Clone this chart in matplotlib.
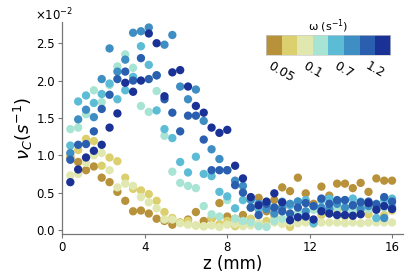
import numpy as np
import matplotlib
matplotlib.use("Agg")
import matplotlib.pyplot as plt
from matplotlib.colors import ListedColormap

# distance from surface (mm)
z = [0.40, 0.78, 1.16, 1.54, 1.92, 2.30, 2.68, 3.06, 3.44, 3.82, 4.20, 4.58,
     4.96, 5.34, 5.72, 6.10, 6.48, 6.86, 7.24, 7.62, 8.00, 8.38, 8.76, 9.14,
     9.52, 9.90, 10.28, 10.66, 11.04, 11.42, 11.80, 12.18, 12.56, 12.94,
     13.32, 13.70, 14.08, 14.46, 14.84, 15.22, 15.60, 15.98]

# nu_C in units of 1e-2 s^-1, one list per rotation rate
nu_1 = [0.97, 0.91, 0.80, 0.85, 0.70, 0.64, 0.51, 0.39, 0.25, 0.26, 0.22, 0.15,
        0.12, 0.07, 0.10, 0.14, 0.24, 0.12, 0.15, 0.36, 0.18, 0.15, 0.20, 0.30,
        0.43, 0.25, 0.40, 0.57, 0.52, 0.70, 0.49, 0.35, 0.58, 0.46, 0.62, 0.62,
        0.56, 0.63, 0.51, 0.69, 0.66, 0.66]
nu_2 = [0.99, 1.07, 1.22, 1.19, 0.86, 0.97, 0.92, 0.70, 0.55, 0.53, 0.48, 0.39,
        0.24, 0.16, 0.10, 0.12, 0.06, 0.05, 0.16, 0.08, 0.12, 0.05, 0.10, 0.15,
        0.08, 0.12, 0.18, 0.30, 0.04, 0.22, 0.14, 0.10, 0.20, 0.25, 0.27, 0.18,
        0.30, 0.22, 0.21, 0.28, 0.20, 0.26]
nu_3 = [0.73, 0.75, 0.90, 1.00, 1.03, 0.80, 0.57, 0.62, 0.59, 0.44, 0.37, 0.29,
        0.14, 0.14, 0.09, 0.07, 0.06, 0.05, 0.06, 0.04, 0.07, 0.08, 0.05, 0.06,
        0.09, 0.05, 0.10, 0.08, 0.10, 0.09, 0.10, 0.08, 0.10, 0.10, 0.10, 0.09,
        0.10, 0.09, 0.10, 0.10, 0.10, 0.10]
nu_4 = [1.35, 1.37, 1.55, 1.87, 1.71, 1.94, 2.19, 2.35, 2.17, 1.66, 1.58, 1.86,
        1.26, 0.78, 0.63, 0.59, 0.56, 0.32, 0.21, 0.18, 0.40, 0.15, 0.12, 0.10,
        0.05, 0.04, 0.12, 0.15, 0.20, 0.22, 0.18, 0.27, 0.25, 0.22, 0.30, 0.28,
        0.25, 0.30, 0.28, 0.32, 0.30, 0.35]
nu_5 = [1.13, 1.72, 1.80, 1.70, 1.82, 1.96, 1.75, 1.87, 2.05, 2.46, 2.21, 1.60,
        1.35, 1.23, 0.91, 0.77, 0.98, 0.75, 0.72, 0.51, 0.45, 0.29, 0.40, 0.30,
        0.28, 0.36, 0.30, 0.38, 0.33, 0.38, 0.40, 0.09, 0.40, 0.42, 0.38, 0.40,
        0.42, 0.38, 0.36, 0.16, 0.40, 0.42]
nu_6 = [1.03, 1.48, 1.61, 1.51, 2.02, 2.43, 2.12, 2.28, 2.64, 2.66, 2.71, 2.07,
        2.48, 2.61, 1.92, 1.75, 1.88, 1.46, 1.08, 0.95, 0.80, 0.66, 0.59, 0.40,
        0.35, 0.28, 0.22, 0.30, 0.35, 0.38, 0.25, 0.32, 0.30, 0.28, 0.35, 0.30,
        0.33, 0.28, 0.32, 0.35, 0.16, 0.30]
nu_7 = [0.94, 1.14, 1.15, 1.32, 1.62, 1.81, 2.02, 2.12, 2.00, 2.30, 2.02, 2.07,
        1.75, 1.57, 1.32, 1.53, 1.53, 1.21, 0.80, 0.80, 0.80, 0.60, 0.50, 0.30,
        0.20, 0.35, 0.30, 0.25, 0.22, 0.30, 0.36, 0.32, 0.42, 0.35, 0.40, 0.40,
        0.33, 0.37, 0.38, 0.34, 0.44, 0.38]
nu_8 = [0.64, 0.81, 0.97, 1.06, 1.14, 1.37, 1.56, 1.97, 1.85, 2.00, 2.63, 2.50,
        1.79, 2.11, 2.14, 1.92, 1.66, 1.57, 1.37, 1.30, 1.34, 0.86, 0.69, 0.44,
        0.33, 0.38, 0.49, 0.37, 0.13, 0.17, 0.18, 0.14, 0.25, 0.22, 0.20, 0.20,
        0.19, 0.21, 0.36, 0.27, 0.32, 0.28]

series = [nu_1, nu_2, nu_3, nu_4, nu_5, nu_6, nu_7, nu_8]
colors = ['#b8923a', '#dccf6e', '#e0e8b0', '#a8e4d4',
          '#5cbcd6', '#3e8ec4', '#2a5eae', '#1a3296']
omega_ticks = ['0.05', '0.1', '0.7', '1.2']

fig = plt.figure(figsize=(4.11, 2.74), dpi=100)
ax = fig.add_axes([0.151, 0.146, 0.829, 0.774])

for vals, c in zip(series, colors):
    ax.scatter(z, vals, s=36, color=c, edgecolors='none', zorder=2)

ax.set_xlim(0, 16.5)
ax.set_ylim(-0.054, 2.785)
ax.set_xticks([0, 4, 8, 12, 16])
ax.set_yticks([0.0, 0.5, 1.0, 1.5, 2.0, 2.5])
ax.set_yticklabels(['0.0', '0.5', '1.0', '1.5', '2.0', '2.5'])
for s in ['top', 'right']:
    ax.spines[s].set_visible(False)
for s in ['left', 'bottom']:
    ax.spines[s].set_color('#777777')
    ax.spines[s].set_linewidth(0.9)
ax.tick_params(direction='out', length=3, width=0.8, color='#777777',
               labelsize=8.5, pad=2)
ax.set_xlabel('z (mm)', fontsize=12, labelpad=1)
ax.set_ylabel(r'$\nu_C(s^{-1})$', fontsize=13, labelpad=1)
fig.text(0.085, 0.945, r'$\times10^{-2}$', fontsize=8.5, va='center')

# colour key for the rotation rate
cax = fig.add_axes([0.647, 0.799, 0.302, 0.073])
cmap = ListedColormap(colors)
cax.imshow(np.arange(8)[None, :], cmap=cmap, aspect='auto',
           extent=[0, 8, 0, 1], interpolation='nearest')
cax.set_yticks([])
cax.set_xticks([1, 3, 5, 7])
cax.set_xticklabels(omega_ticks, rotation=-30, ha='center', fontsize=9)
cax.tick_params(length=0, pad=3)
for s in cax.spines.values():
    s.set_color('#cccccc')
    s.set_linewidth(0.5)
cax.set_title(r'ω (s$^{-1}$)', fontsize=8, pad=2)

fig.savefig('out.png', dpi=100)
